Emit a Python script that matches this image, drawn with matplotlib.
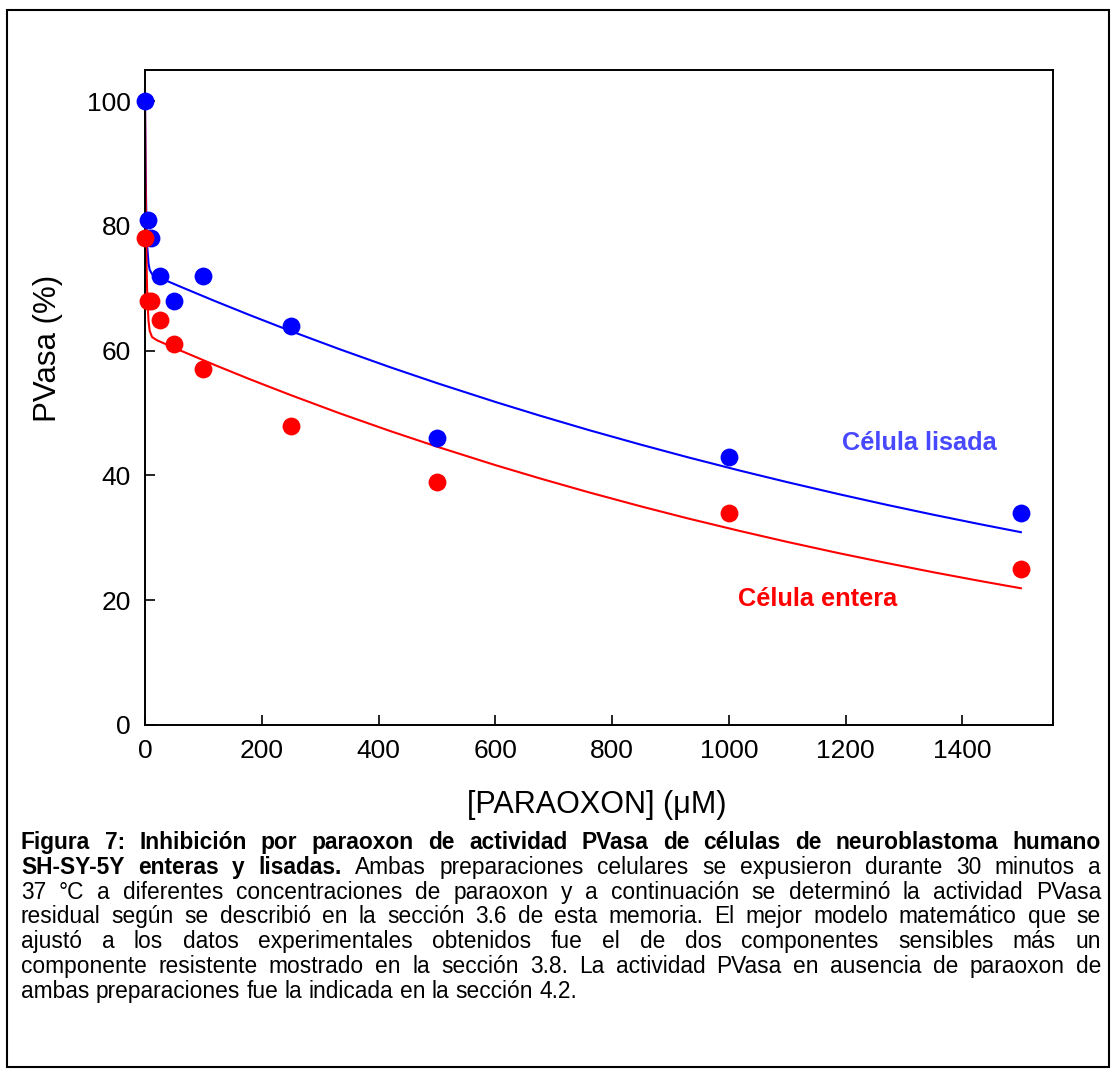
import matplotlib
matplotlib.use('Agg')
import matplotlib.pyplot as plt
from matplotlib.patches import Rectangle

# ---------------- data ----------------
conc = [0, 5, 10, 25, 50, 100, 250, 500, 1000, 1500]
lisada = [100, 81, 78, 72, 68, 72, 64, 46, 43, 34]
entera = [78, 68, 68, 65, 61, 57, 48, 39, 34, 25]

# fitted curves
fit_x_lis = [0, 1, 2, 3, 4, 6, 8, 12, 20, 35, 60, 120, 180, 250, 333, 420, 500, 600, 676, 760,
             850, 930, 1018, 1100, 1189, 1270, 1350, 1430, 1500]
fit_y_lis = [100, 89.6, 83.1, 79.05, 76.5, 74.0, 72.97, 72.3, 71.9, 71.29, 70.29, 67.95, 65.69,
             63.14, 60.25, 57.35, 54.81, 51.79, 49.60, 47.28, 44.92, 42.91, 40.80, 38.93, 36.99,
             35.30, 33.71, 32.19, 30.91]
fit_x_ent = [0, 1, 2, 3, 4, 6, 8, 12, 20, 46, 120, 180, 250, 333, 420, 500, 600, 676, 760,
             850, 930, 1018, 1100, 1189, 1270, 1350, 1430, 1500]
fit_y_ent = [100, 86.4, 77.7, 72.1, 68.5, 64.8, 63.2, 62.2, 61.7, 60.61, 57.69, 55.41, 52.87,
             49.98, 47.12, 44.62, 41.66, 39.54, 37.30, 35.03, 33.11, 31.12, 29.35, 27.53, 25.97,
             24.49, 23.09, 21.92]

xticks = [0, 200, 400, 600, 800, 1000, 1200, 1400]
yticks = [0, 20, 40, 60, 80, 100]

label_lis = "Célula lisada"
label_ent = "Célula entera"
xlabel = "[PARAOXON] (μM)"
ylabel = "PVasa (%)"

caption_lines = [
    [("Figura 7: Inhibición por paraoxon de actividad PVasa de células de neuroblastoma humano", "bold")],
    [("SH-SY-5Y enteras y lisadas.", "bold"), ("Ambas preparaciones celulares se expusieron durante 30 minutos a", "normal")],
    [("37 °C a diferentes concentraciones de paraoxon y a continuación se determinó la actividad PVasa", "normal")],
    [("residual según se describió en la sección 3.6 de esta memoria. El mejor modelo matemático que se", "normal")],
    [("ajustó a los datos experimentales obtenidos fue el de dos componentes sensibles más un", "normal")],
    [("componente resistente mostrado en la sección 3.8. La actividad PVasa en ausencia de paraoxon de", "normal")],
    [("ambas preparaciones fue la indicada en la sección 4.2.", "normal")],
]

FAM = ['Liberation Sans', 'DejaVu Sans']
plt.rcParams['font.family'] = FAM

W, H = 1112, 1072
fig = plt.figure(figsize=(W / 100, H / 100), dpi=100)
fig.patch.set_facecolor('white')

def fx(px):
    return px / W

def fy(py):
    return 1 - py / H

# outer border
fig.patches.append(Rectangle((fx(7), fy(1067)), fx(1109) - fx(7), fy(10) - fy(1067),
                             transform=fig.transFigure, fill=False, lw=1.5, ec='black'))

ax = fig.add_axes([fx(145), fy(725), (1053 - 145) / W, (725 - 70) / H])
ax.set_xlim(0, 1555)
ax.set_ylim(0, 105)
ax.set_xticks(xticks)
ax.set_yticks(yticks)
ax.tick_params(direction='in', length=7, width=1.2, labelsize=19, colors='black')
ax.tick_params(axis='x', pad=10)
ax.tick_params(axis='y', pad=10)
for s in ax.spines.values():
    s.set_linewidth(1.4)

ax.plot(fit_x_lis, fit_y_lis, color='#0000FF', lw=1.5, zorder=2, clip_on=False)
ax.plot(fit_x_ent, fit_y_ent, color='#FF0000', lw=1.5, zorder=2, clip_on=False)
ax.scatter(conc, lisada, s=165, color='#0000FF', zorder=3, clip_on=False, linewidths=0)
ax.scatter(conc, entera, s=165, color='#FF0000', zorder=3, clip_on=False, linewidths=0)

ax.text(1327, 45.2, label_lis, color='#4848FF', fontsize=18.3, fontweight='bold',
        ha='center', va='center')
ax.text(1152, 20.2, label_ent, color='#FF0000', fontsize=18.3, fontweight='bold',
        ha='center', va='center')

fig.text(fx(597), fy(805), xlabel, fontsize=22, ha='center', va='center')
fig.text(fx(48), fy(348), ylabel, fontsize=22.5, ha='center', va='center', rotation=90)

# ---------------- justified caption ----------------
renderer = fig.canvas.get_renderer()
CFS = 16.4

def width_of(s, weight):
    t = fig.text(0, 0, s, fontsize=CFS, fontweight=weight)
    w = t.get_window_extent(renderer=renderer).width
    t.remove()
    return w

space_w = width_of("a a", "normal") - width_of("aa", "normal")
left, right = 21, 1101
base0, step = 849, 24.8
for i, line in enumerate(caption_lines):
    words = []
    for seg, weight in line:
        for w in seg.split(" "):
            words.append((w, weight))
    widths = [width_of(w, wt) for w, wt in words]
    last = (i == len(caption_lines) - 1)
    if last or len(words) < 2:
        gap = space_w
    else:
        gap = (right - left - sum(widths)) / (len(words) - 1)
    x = left
    yb = base0 + i * step
    for (w, wt), ww in zip(words, widths):
        fig.text(fx(x), fy(yb), w, fontsize=CFS, fontweight=wt, ha='left', va='baseline')
        x += ww + gap

fig.savefig('out.png', dpi=100, facecolor='white')
